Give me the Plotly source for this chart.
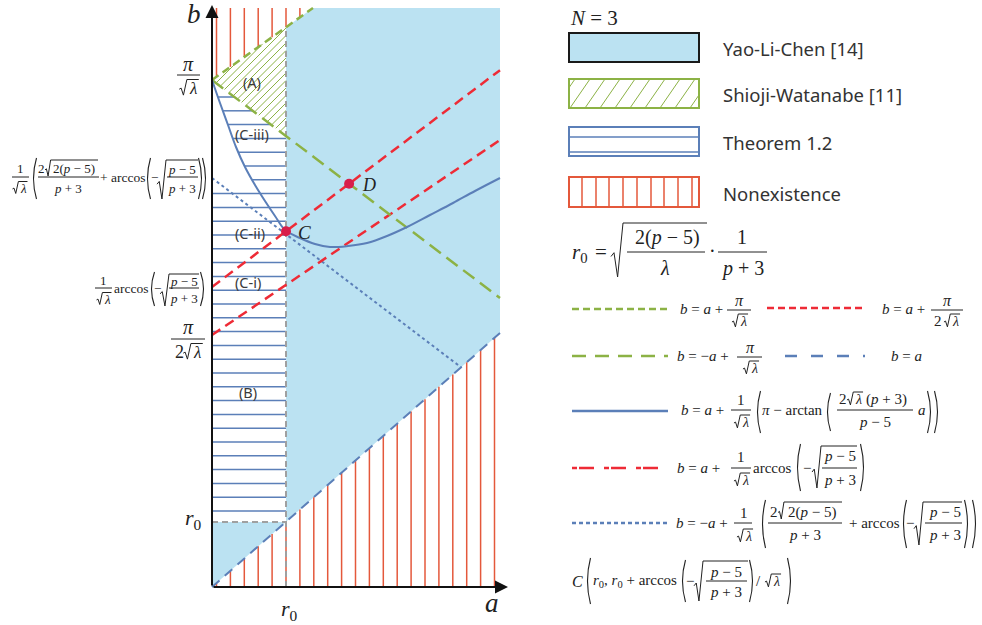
import numpy as np
import plotly.graph_objects as go

# ---------------- data (schematic units) ----------------
R0_A = 74          # a = r0
R0_B = 65          # b = r0
B_PI = 507         # pi/sqrt(lambda)
B_PI2 = 252        # pi/(2 sqrt(lambda))
B_ARC = 300        # arccos(-sqrt((p-5)/(p+3)))/sqrt(lambda)
B_DOT = 409        # intercept of the dotted line
A_MAX = 288
B_MAX = 579
S_UP_GREEN = 0.713   # b = a + pi/sqrt(l)
S_DN_GREEN = 0.757   # b = -a + pi/sqrt(l)
S_RED_LO = 0.677     # b = a + pi/(2 sqrt(l))
S_RED_HI = 0.753     # b = a + arccos(..)/sqrt(l)
S_DIAG = 0.882       # b = a
S_DOT = 0.76         # dotted line
curve_a = [0, 8, 16, 24, 33, 43, 53, 63, 73, 88, 103, 118, 136, 155, 175, 195, 218, 241, 263, 288]
curve_b = [507, 484, 462, 440, 420, 402, 386, 371, 357, 349, 343, 340, 341, 344, 351, 360, 372, 384, 396, 409]

OX, OY = 212, 587   # pixel position of the origin
SERIF = "Liberation Serif"
SANS = "Noto Sans"
INK = "#222222"
BLUE_FILL = "#BBE2F2"
GREEN = "#8CB245"
RED_V = "#E4583B"
RED = "#EE2B36"
BLUE = "#5B7FB8"
GRAY = "#A0A0A0"
PT = "#D81E4A"

fig = go.Figure()
shapes, anns = [], []


def X(px):
    return px - OX


def Y(py):
    return OY - py


def add_line(xs, ys, color, width, dash="solid"):
    fig.add_trace(go.Scatter(x=xs, y=ys, mode="lines", hoverinfo="skip",
                             line=dict(color=color, width=width, dash=dash), showlegend=False))


# ---------------- regions ----------------
a_top = (B_MAX - B_PI) / S_UP_GREEN
poly1_a = [R0_A, A_MAX, A_MAX, a_top, R0_A, R0_A]
poly1_b = [S_DIAG * R0_A, S_DIAG * A_MAX, B_MAX, B_MAX, B_PI + S_UP_GREEN * R0_A, S_DIAG * R0_A]
fig.add_trace(go.Scatter(x=poly1_a, y=poly1_b, fill="toself", fillcolor=BLUE_FILL, mode="none",
                         hoverinfo="skip", showlegend=False))
fig.add_trace(go.Scatter(x=[0, R0_A, 0, 0], y=[0, R0_B, R0_B, 0], fill="toself", fillcolor=BLUE_FILL,
                         mode="none", hoverinfo="skip", showlegend=False))

# nonexistence vertical hatch
vx, vy = [], []
a = 4.5
while a < A_MAX:
    vx += [a, a, None]
    vy += [0, S_DIAG * a, None]
    top0 = B_PI + S_UP_GREEN * a
    if top0 < B_MAX:
        vx += [a, a, None]
        vy += [top0, B_MAX, None]
    a += 13.9
add_line(vx, vy, RED_V, 1.5)

# Shioji-Watanabe hatch (region A)
tri = [(0, B_PI), (R0_A, B_PI + S_UP_GREEN * R0_A), (R0_A, B_PI - S_DN_GREEN * R0_A)]


def clip(c):
    pts = []
    for i in range(3):
        p, q = tri[i], tri[(i + 1) % 3]
        fp, fq = p[1] - p[0] - c, q[1] - q[0] - c
        if fp * fq <= 0 and fp != fq:
            t = fp / (fp - fq)
            pts.append((p[0] + t * (q[0] - p[0]), p[1] + t * (q[1] - p[1])))
    if len(pts) < 2:
        return None
    pts.sort()
    return pts[0], pts[-1]


gx, gy = [], []
c = min(pq[1] - pq[0] for pq in tri) + 3
cmax = max(pq[1] - pq[0] for pq in tri)
while c < cmax:
    r = clip(c)
    if r:
        gx += [r[0][0], r[1][0], None]
        gy += [r[0][1], r[1][1], None]
    c += 7.5
add_line(gx, gy, GREEN, 1)

# Theorem 1.2 horizontal hatch
dec_a = np.array(curve_a[:9], float)
dec_b = np.array(curve_b[:9], float)
hx, hy = [], []
lvl = 76.0
while lvl < B_PI - 10:
    right = min(R0_A, (B_PI - lvl) / S_DN_GREEN)
    if lvl < B_DOT - 4:
        left = 0.0
    else:
        left = float(np.interp(lvl, dec_b[::-1], dec_a[::-1]))
    if right > left:
        hx += [left, right, None]
        hy += [lvl, lvl, None]
    lvl += 13.8
add_line(hx, hy, BLUE, 1.5)

# gray dashed r0 guides
add_line([R0_A, R0_A, None, 0, R0_A], [0, B_PI + S_UP_GREEN * R0_A, None, R0_B, R0_B], GRAY, 2, "6px,4px")

# ---------------- boundary lines ----------------
a_dot_end = B_DOT / (S_DOT + S_DIAG)
add_line([0, a_dot_end], [B_DOT, B_DOT - S_DOT * a_dot_end], BLUE, 2, "3px,3px")
add_line([0, A_MAX], [0, S_DIAG * A_MAX], BLUE, 2, "10px,7px")
add_line([0, A_MAX], [B_PI2, B_PI2 + S_RED_LO * A_MAX], RED, 2.5, "10px,6px")
add_line([0, A_MAX], [B_ARC, B_ARC + S_RED_HI * A_MAX], RED, 2.5, "10px,6px")
add_line([0, A_MAX], [B_PI, B_PI - S_DN_GREEN * A_MAX], GREEN, 2.5, "14px,7px")
add_line([0, a_top], [B_PI, B_MAX], GREEN, 2.5, "8px,5px")
fig.add_trace(go.Scatter(x=curve_a, y=curve_b, mode="lines", line=dict(color=BLUE, width=2, shape="spline"),
                         hoverinfo="skip", showlegend=False))

# points C and D
C_pt = (R0_A, B_ARC + S_RED_HI * R0_A)
aD = (B_PI - B_ARC) / (S_RED_HI + S_DN_GREEN)
D_pt = (aD, B_ARC + S_RED_HI * aD)
fig.add_trace(go.Scatter(x=[C_pt[0], D_pt[0]], y=[C_pt[1], D_pt[1]], mode="markers",
                         marker=dict(color=PT, size=10), hoverinfo="skip", showlegend=False))

# axes arrows
for hx_, hy_ in [(0, 582), (296, 0)]:
    anns.append(dict(x=hx_, y=hy_, ax=0, ay=0, xref="x", yref="y", axref="x", ayref="y", text="",
                     showarrow=True, arrowhead=2, arrowsize=1.3, arrowwidth=2, arrowcolor="#111",
                     standoff=0, startstandoff=0))


# ---------------- text helpers (pixel positions) ----------------
def T(px, py, text, size=14, family=SERIF, color=INK, xanchor="center"):
    anns.append(dict(x=X(px), y=Y(py), xref="x", yref="y", text=text, showarrow=False,
                     font=dict(size=size, family=family, color=color), xanchor=xanchor, yanchor="middle"))


def L(px0, py0, px1, py1, color=INK, width=1, dash="solid"):
    shapes.append(dict(type="line", xref="x", yref="y", x0=X(px0), y0=Y(py0), x1=X(px1), y1=Y(py1),
                       line=dict(color=color, width=width, dash=dash)))


def path(pts, width=1, color=INK):
    d = "M " + " L ".join(f"{X(p[0]):.2f},{Y(p[1]):.2f}" for p in pts)
    shapes.append(dict(type="path", xref="x", yref="y", path=d, line=dict(color=color, width=width)))


def rad(x0, x1, yt, yb, w=None):
    h = yb - yt
    if w is None:
        w = min(0.35 * h, 9)
    path([(x0, yt + 0.62 * h), (x0 + 0.25 * w, yt + 0.55 * h), (x0 + 0.55 * w, yb), (x0 + w, yt), (x1, yt)])


def sl(cx, cy, size):
    x0 = cx - 0.575 * size
    xv = x0 + 0.45 * size
    rad(x0, xv + 0.7 * size, cy - 0.5 * size, cy + 0.42 * size, w=0.45 * size)
    T(xv + 0.36 * size, cy + 0.03 * size, "<i>λ</i>", size)


def paren(x, yt, yb, left=True):
    ym = (yt + yb) / 2
    s = 1 if left else -1
    d = (f"M {X(x + 2.5 * s):.2f},{Y(yt):.2f} Q {X(x - 3.5 * s):.2f},{Y(ym):.2f} "
         f"{X(x + 2.5 * s):.2f},{Y(yb):.2f}")
    shapes.append(dict(type="path", xref="x", yref="y", path=d, line=dict(color=INK, width=1.1)))


P5 = "<i>p</i> − 5"
P3 = "<i>p</i> + 3"

# ---------------- axis labels ----------------
T(194, 14, "<i>b</i>", 27)
T(492, 603, "<i>a</i>", 27)
T(193, 519, "<i>r</i><sub>0</sub>", 22)
T(289, 610, "<i>r</i><sub>0</sub>", 22)

# pi/sqrt(l)
T(188, 64, "<i>π</i>", 20)
L(177, 75, 200, 75)
sl(189, 88, 17)

# long formula (dotted intercept)
T(20, 168, "1", 13)
L(12, 177, 29, 177)
sl(20, 188, 13)
paren(34, 158, 199)
T(41, 168, "2", 13)
rad(45, 98, 160, 176)
T(74, 168, "2(" + P5 + ")", 13)
L(38, 177, 99, 177)
T(68, 188, P3, 13)
T(122, 177, "+ arccos", 13.5)
paren(148, 158, 199)
T(154, 177, "−", 13)
rad(157, 198, 160, 199)
T(182, 169, P5, 13)
L(167, 177, 198, 177)
T(182, 188, P3, 13)
paren(201, 158, 199, False)
paren(205, 158, 199, False)

# arccos formula
T(103, 280, "1", 13)
L(95, 288, 112, 288)
sl(104, 299, 13)
T(131, 288, "arccos", 13.5)
paren(152, 272, 306)
T(157, 288, "−", 13)
rad(160, 199, 274, 306)
T(184, 281, P5, 13)
L(169, 288, 199, 288)
T(184, 298, P3, 13)
paren(203, 272, 306, False)

# pi/(2 sqrt(l))
T(188, 327, "<i>π</i>", 20)
L(171, 339, 205, 339)
T(179, 352, "2", 18)
sl(193, 352, 17)

# region labels
for (px, py, s) in [(252, 82, "(A)"), (252, 134, "(C-iii)"), (250, 233, "(C-ii)"),
                    (248, 282, "(C-i)"), (248, 392, "(B)")]:
    T(px, py, s, 14.5, SANS, "#3a3a3a")
T(304, 232, "<i>C</i>", 19)
T(369, 185, "<i>D</i>", 18)

# ---------------- legend ----------------
T(594, 18, "<i>N</i> = 3", 21)
boxes = [(33, 62, "Yao-Li-Chen [14]"), (79, 108, "Shioji-Watanabe [11]"),
         (127, 156, "Theorem 1.2"), (177, 207, "Nonexistence")]
bx0, bx1 = 569, 699
# box 1
shapes.append(dict(type="rect", xref="x", yref="y", x0=X(bx0), x1=X(bx1), y0=Y(33), y1=Y(62),
                   fillcolor=BLUE_FILL, line=dict(color="#1a1a1a", width=2)))
# box 2
shapes.append(dict(type="rect", xref="x", yref="y", x0=X(bx0), x1=X(bx1), y0=Y(79), y1=Y(108),
                   line=dict(color=GREEN, width=2)))
xh = bx0 - 14
while xh < bx1:
    xa, ya, xb, yb_ = xh, 108, xh + 20, 79
    if xa < bx0:
        ya = 108 - (bx0 - xa) * 29 / 20
        xa = bx0
    if xb > bx1:
        yb_ = 108 - (bx1 - xh) * 29 / 20
        xb = bx1
    L(xa, ya, xb, yb_, GREEN, 1)
    xh += 15
# box 3
shapes.append(dict(type="rect", xref="x", yref="y", x0=X(bx0), x1=X(bx1), y0=Y(127), y1=Y(156),
                   line=dict(color=BLUE, width=2)))
L(bx0, 137, bx1, 137, BLUE, 1.5)
L(bx0, 152, bx1, 152, BLUE, 1.5)
# box 4
shapes.append(dict(type="rect", xref="x", yref="y", x0=X(bx0), x1=X(bx1), y0=Y(177), y1=Y(207),
                   line=dict(color=RED_V, width=2)))
for xv in [582, 596, 609, 623, 637, 651, 664, 678, 692]:
    L(xv, 177, xv, 207, RED_V, 1.5)
for (y0, y1, s) in boxes:
    T(721, (y0 + y1) / 2 + 1, s, 18.5, SANS, "#333333", "left")

# r0 formula
T(580, 253, "<i>r</i><sub>0</sub>", 21)
T(601, 252, "=", 21)
rad(611, 707, 223, 277, w=12)
T(667, 237, "2(" + P5 + ")", 20)
L(627, 252, 705, 252)
T(665, 268, "<i>λ</i>", 20)
T(712, 251, "·", 20)
T(742, 237, "1", 20)
L(718, 252, 767, 252)
T(742, 268, P3, 20)

BA = "<i>b</i> = <i>a</i> +"
BMA = "<i>b</i> = −<i>a</i> +"
# row 1
L(572, 309, 668, 309, GREEN, 2.5, "7px,4px")
T(701, 309, BA, 15)
T(739, 300, "<i>π</i>", 16)
L(727, 310, 751, 310)
sl(740, 321, 14)
L(767, 308, 863, 308, RED, 2.5, "7px,4px")
T(903, 309, BA, 15)
T(947, 300, "<i>π</i>", 16)
L(931, 310, 963, 310)
T(938, 321, "2", 15)
sl(952, 321, 14)
# row 2
L(572, 356, 668, 356, GREEN, 2.5, "14px,9px")
T(703, 356, BMA, 15)
T(750, 347, "<i>π</i>", 16)
L(737, 357, 762, 357)
sl(751, 368, 14)
L(785, 356, 865, 356, BLUE, 2.5, "12px,14px")
T(906, 356, "<i>b</i> = <i>a</i>", 15)
# row 3
L(572, 411, 668, 411, BLUE, 2.5)
T(702, 410, BA, 15)
T(741, 400, "1", 15)
L(731, 410, 751, 410)
sl(742, 422, 14)
paren(758, 391, 433)
T(792, 410, "<i>π</i> − arctan", 15)
paren(828, 393, 431)
T(843, 399, "2", 15)
sl(855, 399, 14)
T(886, 399, "(" + P3 + ")", 15)
L(837, 410, 913, 410)
T(875, 422, P5, 15)
T(922, 410, "<i>a</i>", 15)
paren(930, 391, 433, False)
paren(937, 391, 433, False)
# row 4
L(572, 468, 668, 468, RED, 2.5, "5px,2px,15px,10px")
T(698, 468, BA, 15)
T(741, 457, "1", 15)
L(731, 468, 751, 468)
sl(742, 480, 14)
T(772, 468, "arccos", 15)
paren(798, 444, 491)
T(807, 468, "−", 15)
rad(812, 857, 446, 488)
T(840, 456, P5, 15)
L(822, 468, 857, 468)
T(840, 480, P3, 15)
paren(863, 444, 491, False)
# row 5
L(572, 523, 668, 523, BLUE, 2.5, "4px,3px")
T(702, 523, BMA, 15)
T(744, 513, "1", 15)
L(734, 523, 752, 523)
sl(745, 536, 14)
paren(763, 500, 548)
T(774, 512, "2", 15)
rad(778, 842, 502, 519)
T(812, 512, "2(" + P5 + ")", 15)
L(768, 523, 842, 523)
T(805, 535, P3, 15)
T(874, 523, "+ arccos", 15)
paren(904, 500, 548)
T(910, 523, "−", 15)
rad(914, 962, 502, 545)
T(945, 512, P5, 15)
L(925, 523, 962, 523)
T(945, 535, P3, 15)
paren(967, 500, 548, False)
paren(975, 500, 548, False)
# row 6
T(577, 581, "<i>C</i>", 16)
paren(588, 558, 604)
T(635, 581, "<i>r</i><sub>0</sub>, <i>r</i><sub>0</sub> + arccos", 15)
paren(683, 560, 602)
T(690, 581, "−", 15)
rad(694, 748, 561, 601)
T(726, 572, P5, 15)
L(706, 581, 747, 581)
T(726, 592, P3, 15)
paren(752, 560, 602, False)
T(758, 581, "/", 15)
sl(773, 581, 14)
paren(790, 558, 604, False)

fig.update_layout(
    width=982, height=625, margin=dict(l=0, r=0, t=0, b=0),
    paper_bgcolor="white", plot_bgcolor="white",
    xaxis=dict(range=[-OX, 982 - OX], visible=False, fixedrange=True, domain=[0, 1]),
    yaxis=dict(range=[OY - 625, OY], visible=False, fixedrange=True, domain=[0, 1]),
    shapes=shapes, annotations=anns, showlegend=False,
)
fig.write_html("out.html", config={"displayModeBar": False},
               post_script="document.body.style.margin='0';document.body.style.overflow='hidden';")
